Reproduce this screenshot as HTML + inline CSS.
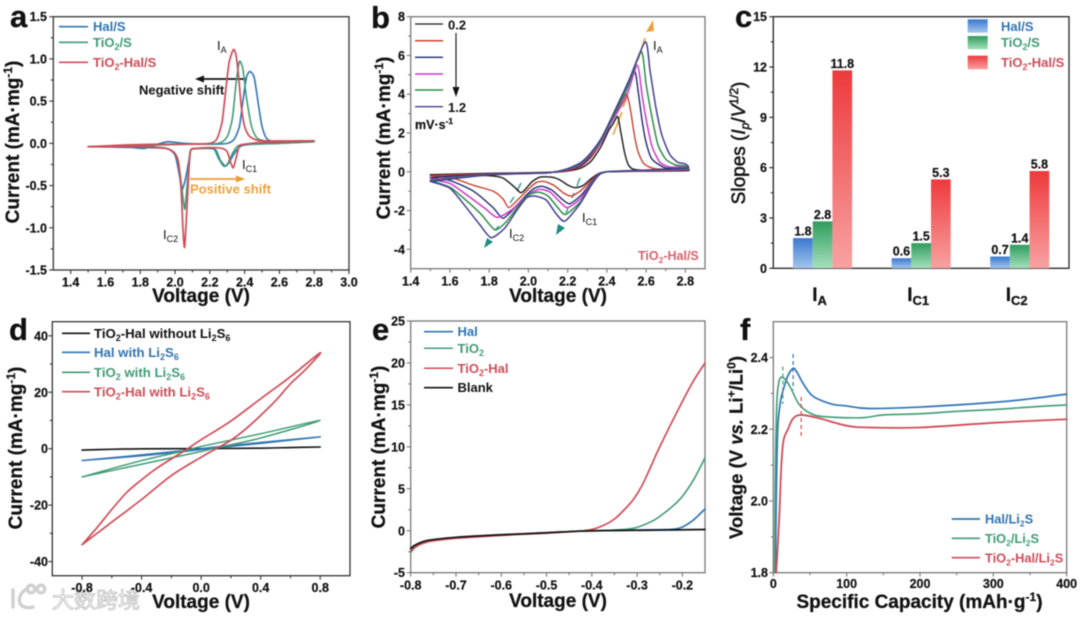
<!DOCTYPE html>
<html lang="en">
<head>
<meta charset="utf-8">
<title>Electrochemical characterisation panels</title>
<style>
html,body{margin:0;padding:0;background:#fff;width:1080px;height:617px;overflow:hidden}
svg{display:block;filter:blur(.45px)}
text{font-family:"Liberation Sans","Noto Sans CJK SC",sans-serif;font-weight:bold;fill:#111}
.tl{font-size:12.5px;stroke:#111;stroke-width:.2}
.at{font-size:19px;stroke:#111;stroke-width:.25}
.lg{font-size:13px}
.pl{font-size:31px;stroke:#111;stroke-width:.3}
.an{font-size:13px;font-weight:normal}
.blue{fill:#2f74b5}.green{fill:#3f9c74}.red{fill:#cf4c58}
</style>
</head>
<body>
<svg id="fig" xmlns="http://www.w3.org/2000/svg" width="1080" height="617" viewBox="0 0 1080 617">
<defs>
<linearGradient id="gb" x1="0" y1="0" x2="0" y2="1"><stop offset="0" stop-color="#3a78d0"/><stop offset="1" stop-color="#a3c6ec"/></linearGradient>
<linearGradient id="gg" x1="0" y1="0" x2="0" y2="1"><stop offset="0" stop-color="#2f9c5c"/><stop offset="1" stop-color="#a6e0be"/></linearGradient>
<linearGradient id="gr" x1="0" y1="0" x2="0" y2="1"><stop offset="0" stop-color="#ee3a3c"/><stop offset="1" stop-color="#f8a2a2"/></linearGradient>
</defs>
<rect width="1080" height="617" fill="#fff"/>

<!-- watermark -->
<g>
<g fill="none" stroke="#d0d0d0" stroke-width="3.4" stroke-linecap="round">
<path d="M13 590v17M28 588c-9 5-11 13 -6 18 4 2 8 2 11 1"/>
<circle cx="31" cy="589" r="3.8"/><circle cx="41" cy="589" r="3.8"/>
</g>
<text x="52" y="608" font-size="22" style="font-family:'Noto Sans CJK SC','WenQuanYi Zen Hei',sans-serif;font-weight:normal;fill:#fff;stroke:#bcbcbc;stroke-width:.8">大数跨境</text>
</g>

<!-- panel letters -->
<text class="pl" x="10" y="27">a</text>
<text class="pl" x="371" y="28">b</text>
<text class="pl" x="735" y="27">c</text>
<text class="pl" x="9" y="340">d</text>
<text class="pl" x="372" y="340">e</text>
<text class="pl" x="740" y="340">f</text>

<!-- axis titles -->
<text class="at" x="201" y="302" text-anchor="middle">Voltage (V)</text>
<text class="at" transform="translate(19,142) rotate(-90)" text-anchor="middle">Current (mA·mg<tspan font-size="12" dy="-7">-1</tspan><tspan dy="7">)</tspan></text>
<text class="at" x="558" y="302" text-anchor="middle">Voltage (V)</text>
<text class="at" transform="translate(390,138) rotate(-90)" text-anchor="middle">Current (mA·mg<tspan font-size="12" dy="-7">-1</tspan><tspan dy="7">)</tspan></text>
<text class="at" transform="translate(745,143) rotate(-90)" text-anchor="middle" style="font-weight:normal;stroke:#111;stroke-width:.5">Slopes (<tspan font-style="italic">I</tspan><tspan font-style="italic" font-size="12" dy="4">p</tspan><tspan dy="-4">/</tspan><tspan font-style="italic">V</tspan><tspan font-size="12" dy="-7">1/2</tspan><tspan dy="7">)</tspan></text>
<text class="at" x="201" y="608" text-anchor="middle">Voltage (V)</text>
<text class="at" transform="translate(22,448) rotate(-90)" text-anchor="middle">Current (mA·mg<tspan font-size="12" dy="-7">-1</tspan><tspan dy="7">)</tspan></text>
<text class="at" x="558" y="607" text-anchor="middle">Voltage (V)</text>
<text class="at" transform="translate(385,447) rotate(-90)" text-anchor="middle">Current (mA·mg<tspan font-size="12" dy="-7">-1</tspan><tspan dy="7">)</tspan></text>
<text class="at" x="919.5" y="608" text-anchor="middle">Specific Capacity (mAh·g<tspan font-size="12" dy="-7">-1</tspan><tspan dy="7">)</tspan></text>
<text class="at" transform="translate(742.5,447.5) rotate(-90)" text-anchor="middle" style="font-size:18.5px">Voltage (V <tspan font-style="italic">vs.</tspan> Li<tspan font-size="12" dy="-7">+</tspan><tspan dy="7">/Li</tspan><tspan font-size="12" dy="-7">0</tspan><tspan dy="7">)</tspan></text>

<!-- legend a -->
<g>
<line x1="59" x2="88" y1="26.7" y2="26.7" stroke="#2f74b5" stroke-width="1.7"/>
<line x1="59" x2="88" y1="42.3" y2="42.3" stroke="#3f9c74" stroke-width="1.7"/>
<line x1="59" x2="88" y1="62.3" y2="62.3" stroke="#cf4c58" stroke-width="1.7"/>
<text class="lg blue" x="93" y="31">Hal/S</text>
<text class="lg green" x="93" y="47">TiO<tspan font-size="9" dy="3">2</tspan><tspan dy="-3">/S</tspan></text>
<text class="lg red" x="93" y="67">TiO<tspan font-size="9" dy="3">2</tspan><tspan dy="-3">-Hal/S</tspan></text>
</g>

<!-- annotations a -->
<g>
<text class="an" x="217" y="50">I<tspan font-size="9" dy="3">A</tspan></text>
<text class="an" x="242" y="169">I<tspan font-size="9" dy="3">C1</tspan></text>
<text class="an" x="163" y="239">I<tspan font-size="9" dy="3">C2</tspan></text>
<line x1="247" y1="79" x2="202" y2="79" stroke="#111" stroke-width="1.8"/>
<polygon points="195,79 204,75.5 204,82.5" fill="#111"/>
<text class="lg" x="139" y="94.5">Negative shift</text>
<line x1="190" y1="179" x2="238" y2="179" stroke="#ee9a2e" stroke-width="1.8"/>
<polygon points="245,179 236,175.5 236,182.5" fill="#ee9a2e"/>
<text class="lg" x="190" y="193.5" style="fill:#e9a23e">Positive shift</text>
</g>

<!-- legend b -->
<g>
<line x1="415" x2="443" y1="24" y2="24" stroke="#1a1a1a" stroke-width="1.3"/>
<line x1="415" x2="443" y1="40.7" y2="40.7" stroke="#c9402f" stroke-width="1.5"/>
<line x1="415" x2="443" y1="57.3" y2="57.3" stroke="#1d2a6e" stroke-width="1.3"/>
<line x1="415" x2="443" y1="74" y2="74" stroke="#cc38cc" stroke-width="1.5"/>
<line x1="415" x2="443" y1="90" y2="90" stroke="#2c8c48" stroke-width="1.4"/>
<line x1="415" x2="443" y1="106.7" y2="106.7" stroke="#40408f" stroke-width="1.4"/>
<text class="lg" x="448" y="29.5">0.2</text>
<text class="lg" x="448" y="112">1.2</text>
<line x1="456" y1="33" x2="456" y2="90" stroke="#111" stroke-width="1.1"/>
<polygon points="456,97 452.5,87 459.5,87" fill="#111"/>
<text class="tl" x="415" y="129">mV·s<tspan font-size="8.5" dy="-5">-1</tspan></text>
</g>
<g>
<text class="an" x="653" y="50">I<tspan font-size="9" dy="3">A</tspan></text>
<text class="an" x="582" y="222">I<tspan font-size="9" dy="3">C1</tspan></text>
<text class="an" x="509" y="238">I<tspan font-size="9" dy="3">C2</tspan></text>
<text class="tl red" x="638" y="260" style="fill:#d8606a;stroke:none">TiO<tspan font-size="8.5" dy="3">2</tspan><tspan dy="-3">-Hal/S</tspan></text>
<g stroke="#e9a23e" stroke-width="1.6">
<line x1="613" y1="135" x2="622" y2="112"/>
<line x1="623" y1="107" x2="628" y2="95"/>
<line x1="638" y1="60" x2="645" y2="38"/>
</g>
<polygon points="653,20 646,32 654,31" fill="#e9a23e"/>
<g stroke="#2e9c88" stroke-width="1.4">
<line x1="517" y1="191" x2="521" y2="183"/>
<line x1="510" y1="203" x2="514" y2="197"/>
<line x1="495" y1="230" x2="499" y2="226"/>
<line x1="577" y1="186" x2="580" y2="178"/>
<line x1="572" y1="198" x2="574" y2="193"/>
<line x1="566" y1="213" x2="568" y2="208"/>
</g>
<polygon points="484,248 487,238 493,242" fill="#1e8c82"/>
<polygon points="556,235 558,224 565,228" fill="#1e8c82"/>
</g>

<!-- legend c -->
<g>
<rect x="967.7" y="19.3" width="20" height="13.4" fill="url(#gb)"/>
<rect x="967.7" y="36" width="20" height="13.3" fill="url(#gg)"/>
<rect x="967.7" y="55.7" width="20" height="13.6" fill="url(#gr)"/>
<text class="lg blue" x="1001" y="31">Hal/S</text>
<text class="lg green" x="1001" y="47">TiO<tspan font-size="9" dy="3">2</tspan><tspan dy="-3">/S</tspan></text>
<text class="lg red" x="1001" y="67">TiO<tspan font-size="9" dy="3">2</tspan><tspan dy="-3">-Hal/S</tspan></text>
</g>

<!-- legend d -->
<g>
<line x1="62" x2="90" y1="333.3" y2="333.3" stroke="#111" stroke-width="1.7"/>
<line x1="62" x2="90" y1="352.3" y2="352.3" stroke="#2f74b5" stroke-width="1.7"/>
<line x1="62" x2="90" y1="372.3" y2="372.3" stroke="#3f9c74" stroke-width="1.7"/>
<line x1="62" x2="90" y1="391.7" y2="391.7" stroke="#cf4c58" stroke-width="1.7"/>
<text class="lg" x="94" y="338" style="font-size:13.2px">TiO<tspan font-size="9" dy="3">2</tspan><tspan dy="-3">-Hal without Li</tspan><tspan font-size="9" dy="3">2</tspan><tspan dy="-3">S</tspan><tspan font-size="9" dy="3">6</tspan></text>
<text class="lg blue" x="94" y="357" style="font-size:13.2px">Hal with Li<tspan font-size="9" dy="3">2</tspan><tspan dy="-3">S</tspan><tspan font-size="9" dy="3">6</tspan></text>
<text class="lg green" x="94" y="377" style="font-size:13.2px">TiO<tspan font-size="9" dy="3">2</tspan><tspan dy="-3"> with Li</tspan><tspan font-size="9" dy="3">2</tspan><tspan dy="-3">S</tspan><tspan font-size="9" dy="3">6</tspan></text>
<text class="lg red" x="94" y="396.5" style="font-size:13.2px">TiO<tspan font-size="9" dy="3">2</tspan><tspan dy="-3">-Hal with Li</tspan><tspan font-size="9" dy="3">2</tspan><tspan dy="-3">S</tspan><tspan font-size="9" dy="3">6</tspan></text>
</g>

<!-- legend e -->
<g>
<line x1="424" x2="453" y1="331.7" y2="331.7" stroke="#2f74b5" stroke-width="1.7"/>
<line x1="424" x2="453" y1="348.3" y2="348.3" stroke="#3f9c74" stroke-width="1.5"/>
<line x1="424" x2="453" y1="368.3" y2="368.3" stroke="#cf4c58" stroke-width="1.5"/>
<line x1="424" x2="453" y1="387.7" y2="387.7" stroke="#111" stroke-width="1.7"/>
<text class="lg blue" x="457.5" y="336">Hal</text>
<text class="lg green" x="457.5" y="353">TiO<tspan font-size="9" dy="3">2</tspan></text>
<text class="lg red" x="457.5" y="373">TiO<tspan font-size="9" dy="3">2</tspan><tspan dy="-3">-Hal</tspan></text>
<text class="lg" x="457.5" y="392">Blank</text>
</g>

<!-- legend f -->
<g>
<line x1="951.7" x2="980" y1="519" y2="519" stroke="#2f74b5" stroke-width="1.7"/>
<line x1="951.7" x2="980" y1="538.3" y2="538.3" stroke="#3f9c74" stroke-width="1.6"/>
<line x1="951.7" x2="980" y1="557.7" y2="557.7" stroke="#cf4c58" stroke-width="1.7"/>
<text class="lg blue" x="985" y="523.5" style="font-size:12.8px">Hal/Li<tspan font-size="8.5" dy="3">2</tspan><tspan dy="-3">S</tspan></text>
<text class="lg green" x="985" y="543" style="font-size:12.8px">TiO<tspan font-size="8.5" dy="3">2</tspan><tspan dy="-3">/Li</tspan><tspan font-size="8.5" dy="3">2</tspan><tspan dy="-3">S</tspan></text>
<text class="lg red" x="985" y="562.5" style="font-size:12.8px">TiO<tspan font-size="8.5" dy="3">2</tspan><tspan dy="-3">-Hal/Li</tspan><tspan font-size="8.5" dy="3">2</tspan><tspan dy="-3">S</tspan></text>
</g>
</svg>

<script>
/* ---------- tick labels ---------- */
const aXTicks = ['1.4','1.6','1.8','2.0','2.2','2.4','2.6','2.8','3.0'];
const aYTicks = ['-1.5','-1.0','-0.5','0.0','0.5','1.0','1.5'];
const bXTicks = ['1.4','1.6','1.8','2.0','2.2','2.4','2.6','2.8'];
const bYTicks = ['-4','-2','0','2','4','6','8'];
const cYTicks = ['0','3','6','9','12','15'];
const dXTicks = ['-0.8','-0.4','0.0','0.4','0.8'];
const dYTicks = ['-40','-20','0','20','40'];
const eXTicks = ['-0.8','-0.7','-0.6','-0.5','-0.4','-0.3','-0.2'];
const eYTicks = ['-5','0','5','10','15','20','25'];
const fXTicks = ['0','100','200','300','400'];
const fYTicks = ['1.8','2.0','2.2','2.4'];

/* ---------- panel a: [voltage, current] ---------- */
const aHal = [[1.5,-.04],[1.7,-.04],[1.82,-.06],[1.9,-.01],[1.96,.02],[2.05,0],[2.2,-.01],[2.3,0],[2.34,.05],[2.37,.2],[2.39,.5],[2.41,.78],[2.43,.85],[2.455,.78],[2.48,.45],[2.5,.2],[2.53,.05],[2.6,.01],[2.8,.02],[2.6,0],[2.45,-.01],[2.38,-.03],[2.34,-.12],[2.31,-.23],[2.29,-.27],[2.26,-.2],[2.235,-.08],[2.2,-.06],[2.12,-.06],[2.09,-.08],[2.08,-.2],[2.06,-.42],[2.04,-.55],[2.025,-.38],[2,-.14],[1.95,-.06],[1.8,-.05],[1.5,-.04]];
const aTio2 = [[1.5,-.04],[1.7,-.03],[1.9,-.02],[2.1,-.01],[2.25,0],[2.3,.08],[2.33,.3],[2.35,.7],[2.37,.97],[2.39,.88],[2.41,.55],[2.44,.2],[2.48,.05],[2.6,.01],[2.8,.02],[2.6,0],[2.42,-.01],[2.36,-.03],[2.33,-.12],[2.3,-.25],[2.28,-.27],[2.25,-.18],[2.22,-.06],[2.15,-.06],[2.09,-.08],[2.08,-.25],[2.065,-.6],[2.055,-.78],[2.04,-.55],[2.02,-.22],[2,-.12],[1.95,-.06],[1.8,-.04],[1.5,-.04]];
const aTio2Hal = [[1.5,-.04],[1.7,-.02],[1.9,-.01],[2.1,-.01],[2.2,0],[2.24,.05],[2.27,.25],[2.29,.6],[2.31,.95],[2.335,1.11],[2.35,1.05],[2.365,.8],[2.38,.45],[2.4,.2],[2.43,.08],[2.5,.03],[2.8,.03],[2.5,.01],[2.4,-.01],[2.37,-.03],[2.35,-.18],[2.335,-.29],[2.32,-.23],[2.3,-.1],[2.27,-.06],[2.2,-.05],[2.12,-.06],[2.09,-.08],[2.08,-.3],[2.07,-.7],[2.055,-1.23],[2.045,-1],[2.035,-.55],[2.02,-.25],[2,-.12],[1.95,-.06],[1.8,-.04],[1.5,-.04]];

/* ---------- panel b: [voltage, current] per scan rate ---------- */
const bRate02 = [[1.5,-.15],[1.8,-.08],[2.1,-.03],[2.2,.04],[2.27,.2],[2.32,.55],[2.37,1.3],[2.41,2.15],[2.43,2.45],[2.455,2.85],[2.47,2.1],[2.49,1],[2.51,.35],[2.54,.12],[2.65,.06],[2.8,.1],[2.8,.05],[2.5,.02],[2.4,0],[2.36,-.08],[2.32,-.35],[2.28,-.7],[2.24,-.82],[2.2,-.68],[2.16,-.42],[2.12,-.28],[2.06,-.27],[2.02,-.5],[1.98,-.95],[1.96,-1.08],[1.93,-.8],[1.87,-.32],[1.8,-.2],[1.65,-.18],[1.5,-.15]];
const bRate04 = [[1.5,-.2],[1.8,-.1],[2.1,-.04],[2.2,.06],[2.27,.3],[2.32,.75],[2.37,1.5],[2.42,2.6],[2.46,3.3],[2.5,4],[2.52,3.2],[2.54,1.9],[2.56,1],[2.59,.4],[2.65,.15],[2.8,.15],[2.8,.08],[2.5,.02],[2.4,0],[2.36,-.1],[2.32,-.45],[2.27,-.95],[2.22,-1.25],[2.18,-1.1],[2.13,-.7],[2.08,-.5],[2.04,-.55],[2,-.9],[1.95,-1.4],[1.9,-1.85],[1.87,-1.4],[1.82,-1],[1.72,-.7],[1.62,-.35],[1.5,-.2]];
const bRate06 = [[1.5,-.3],[1.8,-.12],[2.1,-.05],[2.2,.1],[2.27,.35],[2.32,.85],[2.37,1.6],[2.42,2.7],[2.48,4],[2.54,5.2],[2.56,4.1],[2.58,2.6],[2.6,1.5],[2.63,.65],[2.7,.2],[2.8,.2],[2.8,.1],[2.5,.03],[2.4,0],[2.36,-.12],[2.32,-.55],[2.27,-1.2],[2.21,-1.65],[2.17,-1.4],[2.12,-.95],[2.07,-.75],[2.03,-.85],[1.98,-1.3],[1.93,-1.85],[1.87,-2.4],[1.82,-1.85],[1.72,-1],[1.6,-.45],[1.5,-.3]];
const bRate08 = [[1.5,-.4],[1.8,-.14],[2.1,-.05],[2.2,.12],[2.27,.4],[2.32,.9],[2.37,1.5],[2.42,2.5],[2.5,3.9],[2.555,5.5],[2.58,3.9],[2.6,2.7],[2.63,1.3],[2.67,.5],[2.72,.25],[2.8,.25],[2.8,.12],[2.5,.03],[2.4,0],[2.36,-.14],[2.32,-.6],[2.27,-1.35],[2.2,-1.85],[2.16,-1.55],[2.11,-1.05],[2.06,-.9],[2.02,-1.05],[1.97,-1.45],[1.91,-2],[1.84,-2.35],[1.78,-1.9],[1.7,-1.3],[1.6,-.6],[1.5,-.4]];
const bRate10 = [[1.5,-.45],[1.8,-.15],[2.1,-.05],[2.2,.14],[2.27,.45],[2.32,.95],[2.37,1.6],[2.42,2.6],[2.5,4.2],[2.575,6.2],[2.6,4.5],[2.63,2.8],[2.66,1.4],[2.7,.65],[2.75,.35],[2.8,.3],[2.8,.15],[2.5,.04],[2.4,0],[2.36,-.15],[2.32,-.65],[2.27,-1.5],[2.19,-2.2],[2.15,-1.85],[2.1,-1.25],[2.05,-1.05],[2,-1.2],[1.95,-1.75],[1.89,-2.55],[1.83,-3],[1.76,-2.2],[1.68,-1.45],[1.6,-.8],[1.5,-.45]];
const bRate12 = [[1.5,-.5],[1.8,-.16],[2.1,-.05],[2.2,.16],[2.27,.5],[2.32,1],[2.37,1.7],[2.42,2.7],[2.5,4.4],[2.595,6.7],[2.62,5.2],[2.65,3.3],[2.68,1.9],[2.72,.9],[2.76,.5],[2.8,.4],[2.8,.18],[2.5,.05],[2.4,0],[2.36,-.16],[2.32,-.7],[2.26,-1.7],[2.185,-2.55],[2.14,-2.15],[2.09,-1.45],[2.03,-1.25],[1.99,-1.35],[1.94,-2],[1.88,-2.9],[1.81,-3.4],[1.75,-2.7],[1.68,-1.8],[1.6,-.85],[1.5,-.5]];

/* ---------- panel c ---------- */
const cCategorySubs = ['A','C1','C2'];
const cHal = [1.8,0.6,0.7];
const cTio2 = [2.8,1.5,1.4];
const cTio2Hal = [11.8,5.3,5.8];

/* ---------- panel d: [voltage, current] ---------- */
const dBlank = [[-.8,-.5],[-.6,-.2],[-.4,-.05],[0,.02],[.4,.2],[.6,.4],[.8,.6]];
const dHal = [[-.8,-4.2],[-.4,-2.2],[-.1,-.6],[.1,.6],[.4,2.2],[.8,4.2],[.4,1.9],[.1,.3],[-.1,-.9],[-.4,-2.5],[-.8,-4.2]];
const dTio2 = [[-.8,-10],[-.4,-4.2],[-.1,-.6],[0,.8],[.4,5.3],[.8,10],[.4,3.8],[.1,.3],[0,-1],[-.4,-5.5],[-.8,-10]];
const dTio2Hal = [[-.8,-34],[-.7,-28],[-.6,-21.5],[-.5,-15.5],[-.4,-11],[-.3,-7],[-.2,-3.6],[-.09,0],[0,3.2],[.2,9.8],[.4,17.7],[.6,25.5],[.8,34],[.7,28],[.6,23],[.5,17],[.4,11.8],[.3,7],[.2,3],[.1,0],[0,-3],[-.2,-9.5],[-.4,-18],[-.6,-26],[-.7,-30],[-.8,-34]];

/* ---------- panel e: [voltage, current] ---------- */
const eHal = [[-.8,-2.3],[-.79,-1.8],[-.77,-1.3],[-.75,-1.1],[-.7,-.8],[-.6,-.5],[-.5,-.25],[-.43,-.05],[-.35,.05],[-.25,.12],[-.22,.18],[-.2,.45],[-.18,1.1],[-.165,1.8],[-.15,2.6]];
const eTio2 = [[-.8,-2.6],[-.79,-2],[-.77,-1.4],[-.75,-1.15],[-.7,-.85],[-.6,-.52],[-.5,-.26],[-.43,-.05],[-.36,.06],[-.32,.2],[-.3,.4],[-.27,1.05],[-.25,1.7],[-.22,3],[-.2,4.1],[-.175,6.1],[-.15,8.7]];
const eTio2Hal = [[-.8,-2.4],[-.79,-1.9],[-.77,-1.45],[-.75,-1.2],[-.7,-.9],[-.6,-.55],[-.5,-.28],[-.43,-.05],[-.4,.15],[-.37,.75],[-.35,1.4],[-.33,2.4],[-.31,3.6],[-.29,5.3],[-.27,7.6],[-.25,10],[-.2,15.4],[-.175,17.9],[-.15,20]];
const eBlank = [[-.8,-2.1],[-.79,-1.7],[-.77,-1.25],[-.75,-1.05],[-.7,-.78],[-.6,-.48],[-.5,-.24],[-.43,-.05],[-.35,.03],[-.25,.08],[-.15,.15]];

/* ---------- panel f: [capacity, voltage] ---------- */
const fHal = [[3,1.8],[4,2],[6,2.2],[10,2.28],[15,2.32],[20,2.35],[27,2.37],[32,2.36],[40,2.33],[50,2.3],[60,2.285],[80,2.27],[100,2.265],[130,2.258],[200,2.262],[300,2.275],[350,2.285],[400,2.298]];
const fTio2 = [[2,1.8],[3,2.1],[5,2.28],[8,2.335],[12,2.345],[18,2.335],[25,2.31],[35,2.27],[50,2.245],[70,2.235],[120,2.232],[150,2.24],[200,2.243],[250,2.25],[300,2.255],[350,2.262],[400,2.268]];
const fTio2Hal = [[4,1.8],[8,1.95],[11,2.1],[14,2.17],[20,2.2],[27,2.23],[38,2.24],[60,2.232],[100,2.21],[130,2.205],[200,2.205],[300,2.218],[400,2.228]];
const fHalPeak = [27,2.41,2.31];
const fTio2Peak = [13,2.375,2.27];
const fTio2HalPeak = [38,2.29,2.18];

/* ---------- drawing ---------- */
const NS = 'http://www.w3.org/2000/svg';
const svg = document.getElementById('fig');
function el(tag, attrs, parent){
  const n = document.createElementNS(NS, tag);
  for (const k in attrs) n.setAttribute(k, attrs[k]);
  (parent || svg).appendChild(n);
  return n;
}
function linScale(d0, d1, r0, r1){ return v => r0 + (v - d0) * (r1 - r0) / (d1 - d0); }

function axes(id, box, xDom, yDom, xTicks, yTicks, frame, xLabelY, yLabelX, minorX){
  const sx = linScale(xDom[0], xDom[1], box.l, box.r);
  const sy = linScale(yDom[0], yDom[1], box.b, box.t);
  const g = el('g', {});
  
  
  const r = el('rect', {x:box.l, y:box.t, width:box.r-box.l, height:box.b-box.t, fill:'none', stroke:frame, 'stroke-width':1.3}, g);
  
  
  function tick(x1,y1,x2,y2,nm){
    const t = el('line', {x1,y1,x2,y2, stroke:frame, 'stroke-width':1.1}, g);
    
    
  }
  if (xTicks) {
    xTicks.forEach((lab, i) => {
      const v = Number(lab), x = sx(v);
      tick(x, box.b, x, box.b + 4, id + '-x-tick');
      const t = el('text', {x, y:xLabelY, 'text-anchor':'middle', class:'tl'}, g);
      
      
      t.textContent = lab;
      if (minorX && i < xTicks.length - 1) {
        const m = sx((v + Number(xTicks[i+1])) / 2);
        tick(m, box.b, m, box.b + 2.5, id + '-x-minor-tick');
      }
    });
  }
  yTicks.forEach((lab, i) => {
    const v = Number(lab), y = sy(v);
    tick(box.l - 4, y, box.l, y, id + '-y-tick');
    const t = el('text', {x:yLabelX, y:y + 4.5, 'text-anchor':'end', class:'tl'}, g);
    
    
    t.textContent = lab;
    if (i < yTicks.length - 1) {
      const m = sy((v + Number(yTicks[i+1])) / 2);
      tick(box.l - 2.5, m, box.l, m, id + '-y-minor-tick');
    }
  });
  return {sx, sy};
}

function smoothPath(pts, sc, k){
  const p = pts.map(d => [sc.sx(d[0]), sc.sy(d[1])]);
  let s = 'M' + p[0][0].toFixed(2) + ' ' + p[0][1].toFixed(2);
  for (let i = 0; i < p.length - 1; i++) {
    const a = p[Math.max(i-1,0)], b = p[i], c = p[i+1], d = p[Math.min(i+2,p.length-1)];
    s += 'C' + (b[0]+(c[0]-a[0])*k).toFixed(2) + ' ' + (b[1]+(c[1]-a[1])*k).toFixed(2) + ' '
       + (c[0]-(d[0]-b[0])*k).toFixed(2) + ' ' + (c[1]-(d[1]-b[1])*k).toFixed(2) + ' '
       + c[0].toFixed(2) + ' ' + c[1].toFixed(2);
  }
  return s;
}
function curve(name, pts, sc, color, w, k){
  const c = el('path', {d:smoothPath(pts, sc, k), fill:'none', stroke:color, 'stroke-width':w, 'stroke-linejoin':'round', 'stroke-linecap':'round'});
  
  
}

const BLUE = '#2f74b5', GREEN = '#3f9c74', RED = '#cf4c58', DARK = '#333', GREY = '#777';
const TIGHT = 1/9, ROUND = 1/6;

/* a */
const sa = axes('a', {l:53.3,r:349,t:16.7,b:270}, [1.3,3.0], [-1.5,1.5], aXTicks, aYTicks, DARK, 286.5, 47, true);
curve('a-series-hal', aHal, sa, BLUE, 1.6, TIGHT);
curve('a-series-tio2', aTio2, sa, GREEN, 1.6, TIGHT);
curve('a-series-tio2-hal', aTio2Hal, sa, RED, 1.7, TIGHT);

/* b */
const sb = axes('b', {l:410.7,r:705,t:16.7,b:268.7}, [1.4,2.9], [-5,8], bXTicks, bYTicks, GREY, 285.5, 405, true);
curve('b-series-0-2', bRate02, sb, '#1a1a1a', 1.4, TIGHT);
curve('b-series-0-4', bRate04, sb, '#c9402f', 1.4, TIGHT);
curve('b-series-0-6', bRate06, sb, '#1d2a6e', 1.4, TIGHT);
curve('b-series-0-8', bRate08, sb, '#cc38cc', 1.5, TIGHT);
curve('b-series-1-0', bRate10, sb, '#2c8c48', 1.5, TIGHT);
curve('b-series-1-2', bRate12, sb, '#40408f', 1.5, TIGHT);

/* c */
const cBox = {l:773.3,r:1069,t:16.7,b:268.3};
const sc = axes('c', cBox, [0,1], [0,15], null, cYTicks, '#222', 0, 767, false);
const bandW = (cBox.r - cBox.l) / cCategorySubs.length;
const barW = 19.7;
function bars(name, vals, offset, fill){
  vals.forEach((v, i) => {
    const cx = cBox.l + bandW * (i + .5) + offset * barW;
    const top = sc.sy(v);
    const b = el('rect', {x:cx - barW/2, y:top, width:barW, height:cBox.b - top, fill});
    
    
    const t = el('text', {x:cx, y:top - 2.5, 'text-anchor':'middle', class:'tl'});
    
    
    t.textContent = v.toFixed(1);
  });
}
bars('hal', cHal, -1, 'url(#gb)');
bars('tio2', cTio2, 0, 'url(#gg)');
bars('tio2-hal', cTio2Hal, 1, 'url(#gr)');
cCategorySubs.forEach((sub, i) => {
  const t = el('text', {x:cBox.l + bandW * (i + .5) - 3, y:301, 'text-anchor':'middle', class:'at'});
  
  
  t.appendChild(document.createTextNode('I'));
  const s = el('tspan', {'font-size':13, dy:4}, t);
  s.textContent = sub;
});

/* d */
const sd = axes('d', {l:52.3,r:350,t:321.7,b:575.7}, [-1.0,1.0], [-45,45], dXTicks, dYTicks, DARK, 592, 48, true);
curve('d-series-blank', dBlank, sd, '#111', 1.6, ROUND);
curve('d-series-hal', dHal, sd, BLUE, 1.5, ROUND);
curve('d-series-tio2', dTio2, sd, GREEN, 1.5, ROUND);
curve('d-series-tio2-hal', dTio2Hal, sd, RED, 1.7, ROUND);

/* e */
const se = axes('e', {l:410.7,r:705,t:321,b:572.7}, [-0.8,-0.15], [-5,25], eXTicks, eYTicks, GREY, 589.5, 405, true);
curve('e-series-hal', eHal, se, BLUE, 1.7, ROUND);
curve('e-series-tio2', eTio2, se, GREEN, 1.6, ROUND);
curve('e-series-tio2-hal', eTio2Hal, se, RED, 1.7, ROUND);
curve('e-series-blank', eBlank, se, '#111', 1.7, ROUND);

/* f */
const sf = axes('f', {l:773.3,r:1066.7,t:321.7,b:572.7}, [0,400], [1.8,2.5], fXTicks, fYTicks, GREY, 588, 768, true);
curve('f-series-hal', fHal, sf, BLUE, 1.7, ROUND);
curve('f-series-tio2', fTio2, sf, GREEN, 1.6, ROUND);
curve('f-series-tio2-hal', fTio2Hal, sf, RED, 1.8, ROUND);
function peakGuide(name, arr, color){
  const l = el('line', {x1:sf.sx(arr[0]), x2:sf.sx(arr[0]), y1:sf.sy(arr[1]), y2:sf.sy(arr[2]), stroke:color, 'stroke-width':1.2, 'stroke-dasharray':'4 3'});
  
  
}
peakGuide('f-peak-guide-hal', fHalPeak, BLUE);
peakGuide('f-peak-guide-tio2', fTio2Peak, GREEN);
peakGuide('f-peak-guide-tio2-hal', fTio2HalPeak, RED);
</script>
</body>
</html>
